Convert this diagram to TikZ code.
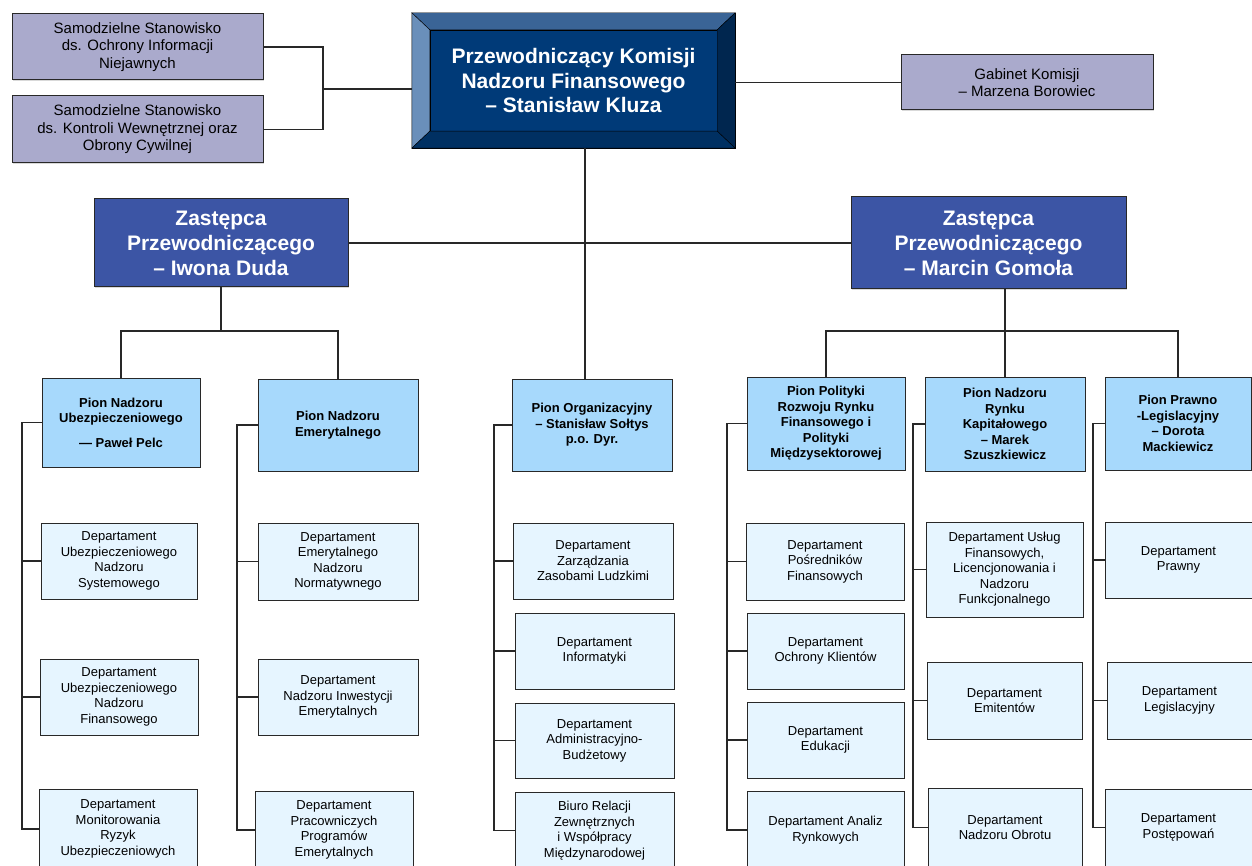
\documentclass[tikz,border=0pt]{standalone}
\usepackage{fontspec}
\setmainfont{Liberation Sans}
\usetikzlibrary{shadows}
\definecolor{sidegray}{RGB}{170,170,204}
\definecolor{chairdark}{RGB}{0,58,120}
\definecolor{beveltop}{RGB}{58,100,150}
\definecolor{bevelleft}{RGB}{106,143,186}
\definecolor{bevelright}{RGB}{0,38,79}
\definecolor{bevelbottom}{RGB}{0,48,98}
\definecolor{deputyblue}{RGB}{60,85,165}
\definecolor{pionblue}{RGB}{167,217,252}
\definecolor{deptblue}{RGB}{230,245,255}
\definecolor{linegray}{RGB}{40,40,40}
\tikzset{
	box/.style={rectangle, draw=linegray, line width=1pt, inner sep=2pt, align=center, text=black,
		drop shadow={shadow xshift=1.2pt, shadow yshift=-1.2pt, opacity=0.3}},
	sidebox/.style={box, fill=sidegray, font=\fontsize{15}{17.5}\selectfont},
	deputy/.style={box, fill=deputyblue, text=white, font=\fontsize{21}{25}\selectfont\bfseries},
	pion/.style={box, fill=pionblue, font=\fontsize{13}{15.5}\selectfont\bfseries},
	dept/.style={box, fill=deptblue, font=\fontsize{13}{15.5}\selectfont},
	link/.style={draw=linegray, line width=1.7pt},
}
\begin{document}
\begin{tikzpicture}[x=1pt, y=-1pt]
		\path[use as bounding box, clip] (0,0) rectangle (1252,866);
		% Chairman with bevelled frame
		\node[rectangle, draw=black, fill=chairdark, minimum width=323, minimum height=135] (chair) at (573.5,80.5) {};
		\node[rectangle, draw=black, fill=chairdark, minimum width=287, minimum height=101, align=center, text=white,
			font=\fontsize{21}{24.5}\selectfont\bfseries] (chairin) at (chair.center)
			{Przewodniczący Komisji\\Nadzoru Finansowego\\– Stanisław Kluza};
		\filldraw[fill=beveltop, draw=black] (chair.north west) -- (chair.north east) -- (chairin.north east) -- (chairin.north west) -- cycle;
		\filldraw[fill=bevelleft, draw=black] (chair.north west) -- (chairin.north west) -- (chairin.south west) -- (chair.south west) -- cycle;
		\filldraw[fill=bevelright, draw=black] (chair.north east) -- (chairin.north east) -- (chairin.south east) -- (chair.south east) -- cycle;
		\filldraw[fill=bevelbottom, draw=black] (chair.south west) -- (chairin.south west) -- (chairin.south east) -- (chair.south east) -- cycle;
		% Boxes beside the chairman
		\node[sidebox, minimum width=251, minimum height=66] (side1) at (137.5,47) {Samodzielne Stanowisko\\ds. Ochrony Informacji\\Niejawnych};
		\node[sidebox, minimum width=251, minimum height=67] (side2) at (137.5,129.5) {Samodzielne Stanowisko\\ds. Kontroli Wewnętrznej oraz\\Obrony Cywilnej};
		\node[sidebox, minimum width=252, minimum height=55] (cabinet) at (1027,82.5) {Gabinet Komisji\\– Marzena Borowiec};
		% Deputies
		\node[deputy, minimum width=254, minimum height=88] (zl) at (221,243) {Zastępca\\Przewodniczącego\\– Iwona Duda};
		\node[deputy, minimum width=275, minimum height=92] (zr) at (988.5,243) {Zastępca\\Przewodniczącego\\– Marcin Gomoła};
		% Divisions
		\node[pion, minimum width=158, minimum height=89] (p1) at (121,422.5) {Pion Nadzoru\\Ubezpieczeniowego\\[9pt]— Paweł Pelc};
		\node[pion, minimum width=160, minimum height=92] (p2) at (338,425) {Pion Nadzoru\\Emerytalnego};
		\node[pion, minimum width=160, minimum height=92] (p3) at (592,425) {Pion Organizacyjny\\– Stanisław Sołtys\\p.o. Dyr.};
		\node[pion, minimum width=158, minimum height=93] (p4) at (826,423.5) {Pion Polityki\\Rozwoju Rynku\\Finansowego i\\Polityki\\Międzysektorowej};
		\node[pion, minimum width=160, minimum height=94] (p5) at (1005,424) {Pion Nadzoru\\Rynku\\Kapitałowego\\– Marek\\Szuszkiewicz};
		\node[pion, minimum width=146, minimum height=93] (p6) at (1178,423.5) {Pion Prawno\\-Legislacyjny\\– Dorota\\Mackiewicz};
		% Departments
		\node[dept, minimum width=156, minimum height=76] (d11) at (119,561) {Departament\\Ubezpieczeniowego\\Nadzoru\\Systemowego};
		\node[dept, minimum width=158, minimum height=76] (d12) at (119,697) {Departament\\Ubezpieczeniowego\\Nadzoru\\Finansowego};
		\node[dept, minimum width=158, minimum height=80] (d13) at (118,829) {Departament\\Monitorowania\\Ryzyk\\Ubezpieczeniowych};
		\node[dept, minimum width=160, minimum height=77] (d21) at (338,561.5) {Departament\\Emerytalnego\\Nadzoru\\Normatywnego};
		\node[dept, minimum width=160, minimum height=76] (d22) at (338,697) {Departament\\Nadzoru Inwestycji\\Emerytalnych};
		\node[dept, minimum width=158, minimum height=78] (d23) at (334,830) {Departament\\Pracowniczych\\Programów\\Emerytalnych};
		\node[dept, minimum width=160, minimum height=76] (d31) at (593,561) {Departament\\Zarządzania\\Zasobami Ludzkimi};
		\node[dept, minimum width=159, minimum height=76] (d32) at (594.5,651) {Departament\\Informatyki};
		\node[dept, minimum width=159, minimum height=75] (d33) at (594.5,740.5) {Departament\\Administracyjno-\\Budżetowy};
		\node[dept, minimum width=159, minimum height=77] (d34) at (594.5,830.5) {Biuro Relacji\\Zewnętrznych\\i Współpracy\\Międzynarodowej};
		\node[dept, minimum width=158, minimum height=77] (d41) at (825,561.5) {Departament\\Pośredników\\Finansowych};
		\node[dept, minimum width=157, minimum height=76] (d42) at (825.5,651) {Departament\\Ochrony Klientów};
		\node[dept, minimum width=157, minimum height=76] (d43) at (825.5,740) {Departament\\Edukacji};
		\node[dept, minimum width=157, minimum height=78] (d44) at (825.5,830) {Departament Analiz\\Rynkowych};
		\node[dept, minimum width=157, minimum height=95] (d51) at (1004.5,569.5) {Departament Usług\\Finansowych,\\Licencjonowania i\\Nadzoru\\Funkcjonalnego};
		\node[dept, minimum width=155, minimum height=77] (d52) at (1004.5,700.5) {Departament\\Emitentów};
		\node[dept, minimum width=154, minimum height=79] (d53) at (1005,827.5) {Departament\\Nadzoru Obrotu};
		\node[dept, minimum width=147, minimum height=76] (d61) at (1178.5,560) {Departament\\Prawny};
		\node[dept, minimum width=145, minimum height=77] (d62) at (1179.5,700.5) {Departament\\Legislacyjny};
		\node[dept, minimum width=147, minimum height=77] (d63) at (1178.5,827.5) {Departament\\Postępowań};
		% Helper points for the lines
		\coordinate (hub) at (323,89);
		\coordinate (trunk) at (585,0);
		\coordinate (busl) at (0,331);
		\coordinate (busr) at (0,331);
		\coordinate (s1) at (22,0);
		\coordinate (s2) at (237,0);
		\coordinate (s3) at (494,0);
		\coordinate (s4) at (727,0);
		\coordinate (s5) at (913,0);
		\coordinate (s6) at (1093,0);
		% Lines of the top level
		\draw[link] (side1.east) -| (hub |- side2.east) -- (side2.east);
		\draw[link] (hub) -- (hub -| chair.west);
		\draw[link] (chair.east |- cabinet.west) -- (cabinet.west);
		\draw[link] (chair.south -| trunk) -- (p3.north -| trunk);
		\draw[link] (zl.east) -- (zr.west);
		% Lines to the divisions
		\draw[link] (zl.south) -- (zl.south |- busl);
		\draw[link] (p1.north) -- (p1.north |- busl) -- (p2.north |- busl) -- (p2.north);
		\draw[link] (zr.south -| p5.north) -- (p5.north);
		\draw[link] (p4.north) -- (p4.north |- busr) -- (p6.north |- busr) -- (p6.north);
		% Spines down to the departments
		\foreach \p/\s/\last in {p1/s1/d13, p2/s2/d23, p3/s3/d34, p4/s4/d44, p5/s5/d53, p6/s6/d63}
			\draw[link] (\p.west) -- (\p.west -| \s) -- (\last.west -| \s) -- (\last.west);
		\foreach \d/\s in {d11/s1, d12/s1, d21/s2, d22/s2, d31/s3, d32/s3, d33/s3, d41/s4, d42/s4, d43/s4, d51/s5, d52/s5, d61/s6, d62/s6}
			\draw[link] (\d.west) -- (\d.west -| \s);
	\end{tikzpicture}
\end{document}
